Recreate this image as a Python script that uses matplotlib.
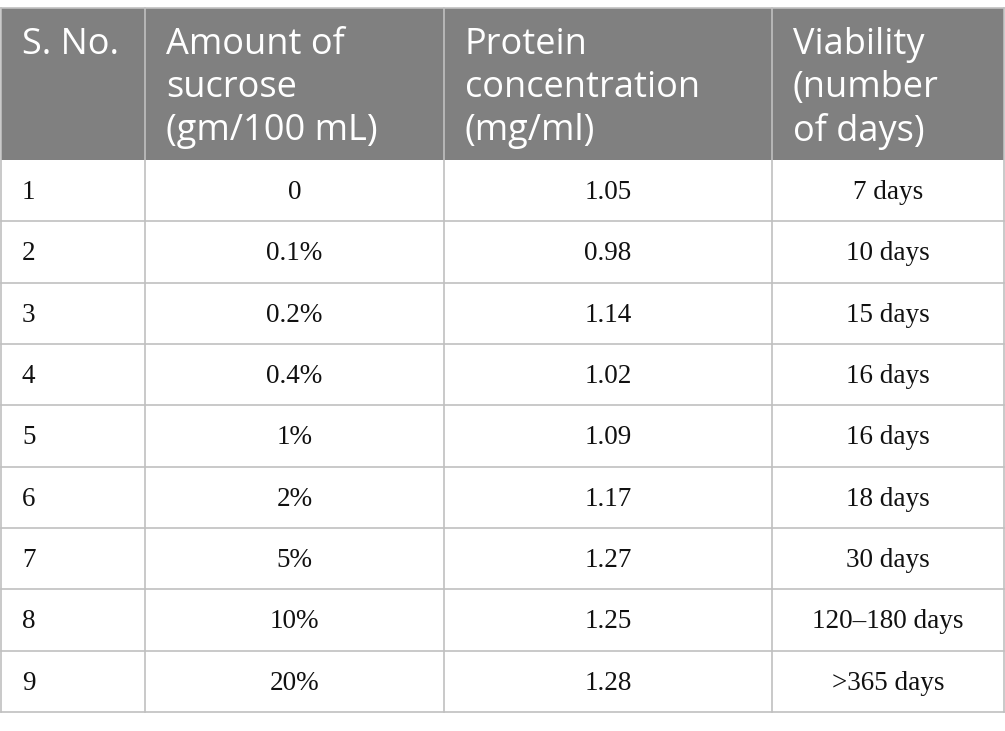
import matplotlib.pyplot as plt
from matplotlib.patches import Rectangle

headers = ["S. No.", "Amount of\nsucrose\n(gm/100 mL)", "Protein\nconcentration\n(mg/ml)", "Viability\n(number\nof days)"]
sno = ["1", "2", "3", "4", "5", "6", "7", "8", "9"]
sucrose = ["0", "0.1%", "0.2%", "0.4%", "1%", "2%", "5%", "10%", "20%"]
protein = ["1.05", "0.98", "1.14", "1.02", "1.09", "1.17", "1.27", "1.25", "1.28"]
viability = ["7 days", "10 days", "15 days", "16 days", "16 days", "18 days", "30 days", "120\u2013180 days", ">365 days"]

W, H = 1005, 731
col_x = [1, 145, 444, 772, 1004]
top, head_bot, bottom = 8, 160, 712
n = len(sno)
row_h = (bottom - head_bot) / n
line_c = "#c0c0c0"
head_c = "#808080"

fig = plt.figure(figsize=(W / 100, H / 100), dpi=100)
ax = fig.add_axes([0, 0, 1, 1])
ax.set_xlim(0, W)
ax.set_ylim(H, 0)
ax.axis("off")

# header background
ax.add_patch(Rectangle((col_x[0], top), col_x[-1] - col_x[0], head_bot - top,
                       facecolor=head_c, edgecolor="none"))
for i, h in enumerate(headers):
    ax.text(col_x[i] + 21, top + 19, h, ha="left", va="top", color="white",
            fontsize=26, family="Open Sans", linespacing=1.26)

# body
cols = [sno, sucrose, protein, viability]
for r in range(n):
    yc = head_bot + (r + 0.5) * row_h + 2
    for c, vals in enumerate(cols):
        if c == 0:
            ax.text(col_x[0] + 21, yc, vals[r], ha="left", va="center",
                    fontsize=19.5, family="Liberation Serif", color="#111111")
        else:
            xc = (col_x[c] + col_x[c + 1]) / 2
            ax.text(xc, yc, vals[r], ha="center", va="center",
                    fontsize=19.5, family="Liberation Serif", color="#111111")

# grid lines
for r in range(1, n + 1):
    y = head_bot + r * row_h
    ax.plot([col_x[0], col_x[-1]], [y, y], color=line_c, lw=1.2)
ax.plot([col_x[0], col_x[-1]], [top, top], color=line_c, lw=1.2)
for x in col_x:
    ax.plot([x, x], [top, bottom], color=line_c, lw=1.2)

fig.savefig("out.png", dpi=100)
